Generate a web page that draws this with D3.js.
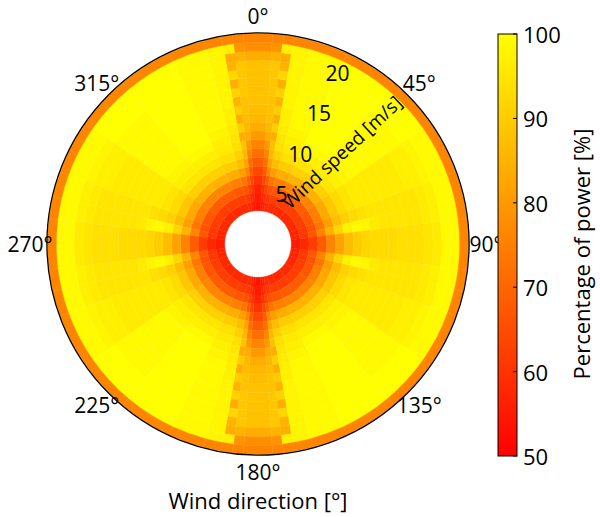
<!DOCTYPE html>
<html><head><meta charset="utf-8">
<script src="https://cdn.jsdelivr.net/npm/d3@7"></script>
<style>body{margin:0;background:#fff}svg{display:block}text{font-family:"Open Sans",sans-serif;fill:#000}</style>
</head><body><svg id="c" width="600" height="517"></svg>
<script>
// wind speed bins (m/s), 1 m/s wide
const speeds = [3,4,5,6,7,8,9,10,11,12,13,14,15,16,17,18,19,20,21,22];
// direction sector edges for one quadrant (deg); chart is mirror-symmetric about N-S and E-W axes
const sectorEdges = [0,4,7,10,15,25,40,55,70,77,83,90];
// percentage of power per sector (rows) and speed (columns)
const power = [
  [54,55,57,60,64,68,72,76,80,84,86,87,88,88,88,88,88,84,78,76],
  [55,57,60,64,68,72,76,80,84,86,87,88,88,89,89,89,89,85,79,76],
  [56,59,63,68,76,82,86,88,84,90,84,90,85,91,84,92,85,84,97,76],
  [58,61,66,73,81,87,91,94,95,96,97,97,98,98,98,98,98,98,98,76],
  [58,62,67,75,84,90,94,96,97,98,99,99,99,99,99,99,99,99,99,76],
  [58,62,68,76,85,91,95,97,99,100,100,100,100,100,100,100,100,100,100,76],
  [58,62,68,76,85,91,95,97,98,99,99,99,99,99,99,99,100,100,100,76],
  [58,62,67,75,83,89,93,95,96,96,96,96,96,96,97,97,98,99,99,76],
  [57,61,66,73,81,87,91,93,94,95,95,95,95,95,95,96,97,99,99,76],
  [57,61,67,76,85,92,97,99,98,96,95,95,95,95,95,96,97,99,99,76],
  [55,58,62,68,76,82,87,90,92,93,93,93,94,94,94,95,96,99,99,76]
];
const dirTicks = [0,45,90,135,180,225,270,315];
const speedTicks = [5,10,15,20];
const cbTicks = [50,60,70,80,90,100];

const svg = d3.select("#c");
const cx = 258, cy = 244;
const r = d3.scaleLinear().domain([0, 22.5]).range([11.2, 210.5]);
const color = d3.scaleLinear().domain([50,100]).range(["#ff0000","#ffff00"]).clamp(true);
const rad = d => d*Math.PI/180;

const cells = [];
power.forEach((row, si) => {
  const a = sectorEdges[si], b = sectorEdges[si+1];
  const spans = [[a,b],[180-b,180-a],[180+a,180+b],[360-b,360-a]];
  row.forEach((val, vi) => {
    spans.forEach(s => cells.push({s0:s[0], s1:s[1], v:speeds[vi], val}));
  });
});
const arc = d3.arc()
  .innerRadius(d => r(d.v-0.5)).outerRadius(d => r(d.v+0.5))
  .startAngle(d => rad(d.s0)).endAngle(d => rad(d.s1));
const g = svg.append("g").attr("transform", `translate(${cx},${cy})`);
g.selectAll("path.cell").data(cells).join("path").attr("class","cell")
  .attr("d", arc).attr("fill", d => color(d.val))
  .attr("stroke", d => color(d.val)).attr("stroke-width", 0.4);
g.append("circle").attr("r", r(22.5)+0.6).attr("fill","none").attr("stroke","#000").attr("stroke-width",1.3);

// direction labels
g.selectAll("text.dir").data(dirTicks).join("text").attr("class","dir")
  .attr("x", d => 228*Math.sin(rad(d))).attr("y", d => -228*Math.cos(rad(d)))
  .attr("text-anchor","middle").attr("dominant-baseline","central")
  .attr("font-size",21).text(d => d + "°");
// speed labels
g.selectAll("text.spd").data(speedTicks).join("text").attr("class","spd")
  .attr("x", d => r(d)*Math.sin(rad(25))).attr("y", d => -r(d)*Math.cos(rad(25)))
  .attr("text-anchor","middle").attr("dominant-baseline","central")
  .attr("font-size",21).text(d => d);
svg.append("text").attr("transform","translate(342,152) rotate(-43)")
  .attr("text-anchor","middle").attr("dominant-baseline","central")
  .attr("font-size",19).text("Wind speed [m/s]");
svg.append("text").attr("x",258).attr("y",500).attr("text-anchor","middle")
  .attr("dominant-baseline","central").attr("font-size",22).text("Wind direction [°]");

// colorbar
const cbX = 498, cbW = 19, cbTop = 34, cbBot = 456;
const cy2 = d3.scaleLinear().domain([50,100]).range([cbBot, cbTop]);
const defs = svg.append("defs");
const grad = defs.append("linearGradient").attr("id","cbg").attr("x1",0).attr("x2",0).attr("y1",1).attr("y2",0);
grad.selectAll("stop").data(cbTicks).join("stop")
  .attr("offset", d => (d-50)/50).attr("stop-color", d => color(d));
svg.append("rect").attr("x",cbX).attr("y",cbTop).attr("width",cbW).attr("height",cbBot-cbTop)
  .attr("fill","url(#cbg)").attr("stroke","#000").attr("stroke-width",1);
const cbAxis = svg.append("g");
cbAxis.selectAll("line").data(cbTicks).join("line")
  .attr("x1",cbX+cbW-4).attr("x2",cbX+cbW).attr("y1",d=>cy2(d)).attr("y2",d=>cy2(d))
  .attr("stroke","#000").attr("stroke-width",1);
cbAxis.selectAll("text").data(cbTicks).join("text")
  .attr("x",cbX+cbW+6).attr("y",d=>cy2(d)).attr("dominant-baseline","central")
  .attr("font-size",22).text(d=>d);
svg.append("text").attr("transform","translate(581,254) rotate(-90)")
  .attr("text-anchor","middle").attr("dominant-baseline","central")
  .attr("font-size",22).text("Percentage of power [%]");
</script></body></html>
